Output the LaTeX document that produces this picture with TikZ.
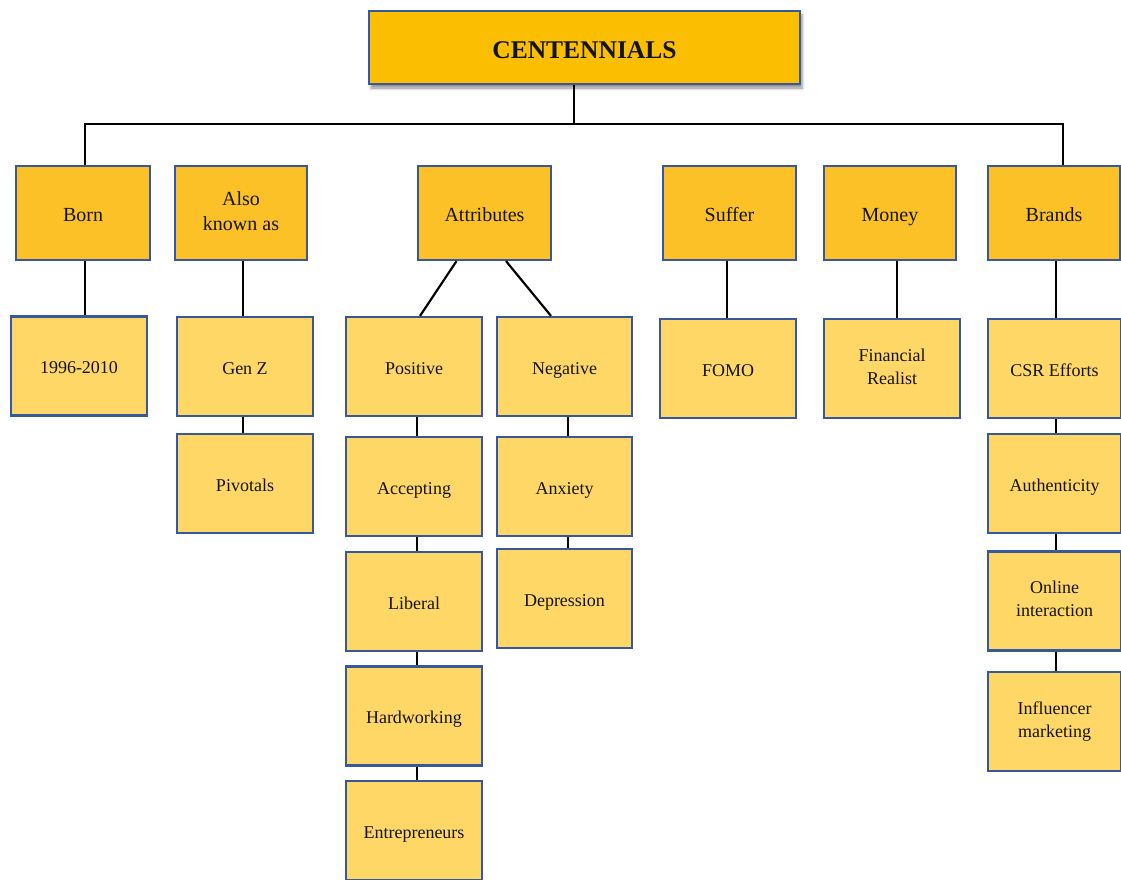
\documentclass[tikz,border=0pt]{standalone}
\usepackage{fontspec}
\setmainfont{Liberation Serif}
\usetikzlibrary{shadows.blur}
\definecolor{rootfill}{HTML}{FBBE00}
\definecolor{headfill}{HTML}{FCC126}
\definecolor{leaffill}{HTML}{FED766}
\definecolor{edgeblue}{HTML}{36599E}
% invisible rules that keep the text baseline a little below the cell centre
\newcommand\celltop{\rule{0pt}{1.05em}}
\newcommand\cellbottom{\rule[-0.2em]{0pt}{0pt}}
\tikzset{
  cellbase/.style={draw=edgeblue, line width=2.2pt, align=center, inner sep=2pt,
    text=black!92, execute at begin node=\celltop, execute at end node=\cellbottom},
  rootcell/.style={cellbase, fill=rootfill, minimum width=431pt, minimum height=73pt,
    font=\fontsize{25.5}{28}\selectfont\bfseries,
    blur shadow={shadow xshift=2pt, shadow yshift=-4pt, shadow blur radius=3pt,
      shadow opacity=45}},
  headcell/.style={cellbase, fill=headfill, minimum width=#1, minimum height=94pt,
    font=\fontsize{20}{25}\selectfont},
  headcell/.default=133pt,
  leafcell/.style={cellbase, fill=leaffill, minimum width=#1, minimum height=99pt,
    font=\fontsize{18}{23}\selectfont},
  leafcell/.default=136pt,
  wire/.style={draw=black, line width=2.2pt}
}
\begin{document}
\begin{tikzpicture}[x=1pt, y=-1pt]
\useasboundingbox (0,0) rectangle (1121,880);

% root
\node[rootcell] (top) at (584.5,47.5) {CENTENNIALS};

% first level
\node[headcell=134pt] (born)   at (83,213)    {Born};
\node[headcell=132pt] (aka)    at (241,213)   {Also\\known as};
\node[headcell]       (attr)   at (484.5,213) {Attributes};
\node[headcell]       (suffer) at (729.5,213) {Suffer};
\node[headcell=132pt] (money)  at (890,213)   {Money};
\node[headcell=132pt] (brands) at (1054,213)  {Brands};

% Born
\node[leafcell] (years) at (79,366) {1996-2010};

% Also known as
\node[leafcell] (genz)     at (245,366.5) {Gen Z};
\node[leafcell] (pivotals) at (245,483.5) {Pivotals};

% Attributes: positive side
\node[leafcell] (positive)  at (414,366.5) {Positive};
\node[leafcell] (accepting) at (414,486.5) {Accepting};
\node[leafcell] (liberal)   at (414,601.5) {Liberal};
\node[leafcell] (hardwork)  at (414,716)   {Hardworking};
\node[leafcell] (entrep)    at (414,830.5) {Entrepreneurs};

% Attributes: negative side
\node[leafcell=135pt] (negative)   at (564.5,366.5) {Negative};
\node[leafcell=135pt] (anxiety)    at (564.5,486.5) {Anxiety};
\node[leafcell=135pt] (depression) at (564.5,598.5) {Depression};

% Suffer, Money
\node[leafcell] (fomo)      at (728,368.5) {FOMO};
\node[leafcell] (financial) at (892,368.5) {Financial\\Realist};

% Brands
\node[leafcell=133pt] (csr)          at (1054.5,368.5) {CSR Efforts};
\node[leafcell=133pt] (authenticity) at (1054.5,483.5) {Authenticity};
\node[leafcell=133pt] (online)       at (1054.5,601)   {Online\\interaction};
\node[leafcell=133pt] (influencer)   at (1054.5,721.5) {Influencer\\marketing};

% bus from the root
\coordinate (bus) at (574,124);
\draw[wire] ([xshift=-10.5pt]top.south) -- (bus);
\draw[wire] ([xshift=2pt]born.north) |- (bus) -| ([xshift=9pt]brands.north);

% level connectors
\draw[wire] ([xshift=2pt]born.south) -- ([xshift=6pt]years.north);
\draw[wire] ([xshift=2pt]aka.south) -- ([xshift=-2pt]genz.north);
\draw[wire] ([xshift=-2pt]genz.south) -- ([xshift=-2pt]pivotals.north);

\draw[wire] ([xshift=-28pt]attr.south) -- ([xshift=6pt]positive.north);
\draw[wire] ([xshift=21.5pt]attr.south) -- ([xshift=-13.5pt]negative.north);

\draw[wire] ([xshift=3pt]positive.south)  -- ([xshift=3pt]accepting.north);
\draw[wire] ([xshift=3pt]accepting.south) -- ([xshift=3pt]liberal.north);
\draw[wire] ([xshift=3pt]liberal.south)   -- ([xshift=3pt]hardwork.north);
\draw[wire] ([xshift=3pt]hardwork.south)  -- ([xshift=3pt]entrep.north);

\draw[wire] ([xshift=3.5pt]negative.south) -- ([xshift=3.5pt]anxiety.north);
\draw[wire] ([xshift=3.5pt]anxiety.south)  -- ([xshift=3.5pt]depression.north);

\draw[wire] ([xshift=-2.5pt]suffer.south) -- ([xshift=-1pt]fomo.north);
\draw[wire] ([xshift=7pt]money.south) -- ([xshift=5pt]financial.north);

\draw[wire] ([xshift=2pt]brands.south) -- ([xshift=1.5pt]csr.north);
\draw[wire] ([xshift=1.5pt]csr.south) -- ([xshift=1.5pt]authenticity.north);
\draw[wire] ([xshift=1.5pt]authenticity.south) -- ([xshift=1.5pt]online.north);
\draw[wire] ([xshift=1.5pt]online.south) -- ([xshift=1.5pt]influencer.north);
\end{tikzpicture}
\end{document}
